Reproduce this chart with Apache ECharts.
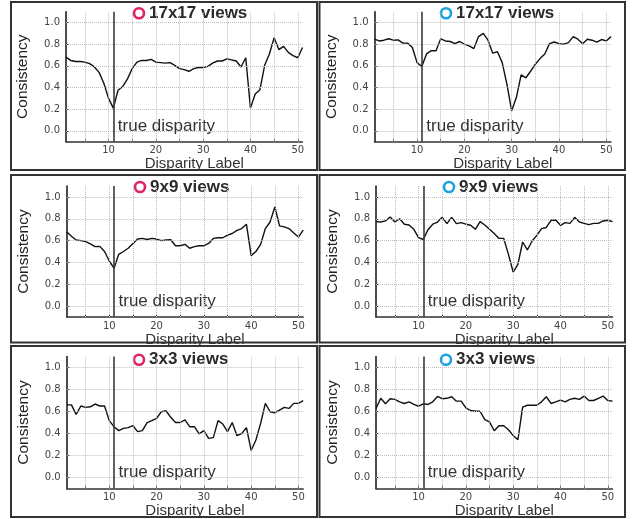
<!DOCTYPE html>
<html><head><meta charset="utf-8">
<script src="https://cdn.jsdelivr.net/npm/echarts@6/dist/echarts.min.js"></script>
<style>html,body{margin:0;padding:0;background:#fff}#c{width:632px;height:519px}</style>
</head><body><div id="c"></div>
<script>
// ---------- data ----------
const disparity = [1,2,3,4,5,6,7,8,9,10,11,12,13,14,15,16,17,18,19,20,21,22,23,24,25,26,27,28,29,30,31,32,33,34,35,36,37,38,39,40,41,42,43,44,45,46,47,48,49,50,51];
const xTickLabels = [10,20,30,40,50];
const xGridValues = [5,10,15,20,25,30,35,40,45,50];
const yTickLabels = [0,0.2,0.4,0.6,0.8,1.0];
const trueDisparity = 11;
const titles = ['17x17 views','17x17 views','9x9 views','9x9 views','3x3 views','3x3 views'];
const markerColors = ['#e0245e','#1aa3e0','#e0245e','#1aa3e0','#e0245e','#1aa3e0'];

const red17 = [0.68,0.65,0.64,0.64,0.635,0.62,0.59,0.54,0.44,0.30,0.21,0.375,0.41,0.48,0.575,0.635,0.65,0.65,0.66,0.635,0.63,0.625,0.63,0.605,0.575,0.565,0.55,0.575,0.585,0.585,0.595,0.625,0.645,0.645,0.665,0.655,0.645,0.59,0.675,0.21,0.34,0.38,0.605,0.71,0.86,0.75,0.78,0.725,0.695,0.675,0.77];
const blue17 = [0.846,0.83,0.837,0.85,0.837,0.84,0.81,0.81,0.77,0.63,0.594,0.71,0.74,0.74,0.85,0.83,0.825,0.805,0.825,0.80,0.785,0.76,0.87,0.90,0.837,0.717,0.73,0.63,0.43,0.185,0.31,0.517,0.49,0.55,0.615,0.667,0.71,0.805,0.82,0.805,0.80,0.815,0.87,0.846,0.805,0.846,0.837,0.82,0.843,0.83,0.87];
const red9 = [0.68,0.64,0.605,0.60,0.59,0.57,0.545,0.547,0.50,0.413,0.347,0.474,0.50,0.53,0.574,0.614,0.62,0.61,0.62,0.614,0.60,0.605,0.608,0.553,0.553,0.565,0.53,0.545,0.553,0.553,0.574,0.62,0.626,0.626,0.65,0.665,0.693,0.71,0.75,0.462,0.50,0.565,0.71,0.77,0.908,0.735,0.726,0.71,0.67,0.632,0.696];
const blue9 = [0.774,0.77,0.78,0.816,0.77,0.80,0.75,0.743,0.703,0.627,0.61,0.70,0.75,0.77,0.813,0.755,0.813,0.755,0.765,0.75,0.74,0.703,0.774,0.743,0.703,0.664,0.62,0.62,0.474,0.312,0.382,0.587,0.514,0.596,0.648,0.71,0.72,0.786,0.789,0.74,0.765,0.758,0.813,0.77,0.758,0.746,0.758,0.758,0.78,0.786,0.774];
const red3 = [0.66,0.66,0.574,0.65,0.637,0.643,0.668,0.65,0.65,0.517,0.462,0.426,0.447,0.453,0.471,0.417,0.426,0.498,0.517,0.538,0.598,0.607,0.547,0.50,0.50,0.523,0.462,0.462,0.396,0.426,0.356,0.362,0.517,0.486,0.417,0.50,0.38,0.40,0.453,0.245,0.341,0.492,0.674,0.598,0.589,0.613,0.637,0.628,0.674,0.674,0.698];
const blue3 = [0.627,0.72,0.67,0.716,0.71,0.688,0.673,0.688,0.664,0.648,0.67,0.664,0.688,0.737,0.716,0.72,0.734,0.694,0.694,0.633,0.609,0.602,0.602,0.526,0.505,0.425,0.471,0.471,0.434,0.382,0.343,0.639,0.657,0.657,0.657,0.688,0.734,0.673,0.688,0.703,0.688,0.71,0.72,0.71,0.74,0.70,0.70,0.72,0.74,0.70,0.694];
const panelSeries = [red17, blue17, red9, blue9, red3, blue3];

// ---------- layout ----------
const gridLeft = [[66,374.5],[66.7,376],[66.7,376]];
const gridTop = [11.7,186,356.5];
const gridHeight = [130,131,132];
const gridWidth = 236.5;
const panelBox = [[2,170],[175,342.5],[346,517]];
const colBox = [[11,317],[319.5,625]];
const titleLeft = [[149,456],[150,459],[149,456]];
const titleY = [13.3,187,359.7];

const chart = echarts.init(document.getElementById('c'), null, {renderer:'canvas'});
const grids = [], xAxes = [], yAxes = [], series = [], graphics = [];
const FONT = 'Liberation Sans, Arial, sans-serif';

for (let i = 0; i < 6; i++) {
  const r = Math.floor(i/2), c = i % 2;
  grids.push({left: gridLeft[r][c], top: gridTop[r], width: gridWidth, height: gridHeight[r],
    containLabel:false, outerBoundsMode:'none'});
  xAxes.push({type:'value', gridIndex:i, min:1, max:51,
    name:'Disparity Label', nameLocation:'middle', nameGap:12,
    nameTextStyle:{fontFamily:FONT, fontSize:15, color:'#333', padding:[0,0,0,20]},
    axisLine:{show:true, onZero:false, lineStyle:{color:'#333', width:1.5}},
    axisTick:{show:true, inside:true, length:3, customValues:xGridValues, lineStyle:{color:'#333'}},
    axisLabel:{show:true, customValues:xTickLabels, margin:4, fontFamily:'DejaVu Sans', fontSize:10, color:'#444'},
    splitLine:{show:false}});
  yAxes.push({type:'value', gridIndex:i, min:-0.1, max:1.1,
    name:'Consistency', nameLocation:'middle', nameGap:35,
    nameTextStyle:{fontFamily:FONT, fontSize:15.5, color:'#222'},
    axisLine:{show:true, onZero:false, lineStyle:{color:'#111', width:1.5}},
    axisTick:{show:true, inside:true, length:3, customValues:yTickLabels, lineStyle:{color:'#333'}},
    axisLabel:{show:true, customValues:yTickLabels, margin:6, fontFamily:'DejaVu Sans', fontSize:10, color:'#444',
      formatter: v => Number(v).toFixed(1)},
    splitLine:{show:false}});
  const pts = disparity.map((d,k) => [d, panelSeries[i][k]]);
  series.push({type:'line', xAxisIndex:i, yAxisIndex:i, data:pts, showSymbol:false, silent:true, z:1,
    lineStyle:{opacity:0, width:0},
    markLine:{silent:true, symbol:['none','none'], label:{show:false}, animation:false,
      lineStyle:{type:'dotted', color:'#bdbdbd', width:1},
      data: xGridValues.map(v => ({xAxis:v})).concat(yTickLabels.map(v => ({yAxis:v}))).concat([
        {xAxis:trueDisparity, lineStyle:{type:'solid', color:'#3a3a3a', width:1.6}}])}});
  series.push({type:'line', xAxisIndex:i, yAxisIndex:i, data:pts, showSymbol:false, z:3,
    animation:false, lineStyle:{color:'#111', width:1.4}});
  graphics.push({type:'rect', silent:true, z:0,
    shape:{x:colBox[c][0], y:panelBox[r][0], width:colBox[c][1]-colBox[c][0], height:panelBox[r][1]-panelBox[r][0]},
    style:{fill:'none', stroke:'#333', lineWidth:2}});
  graphics.push({type:'circle', silent:true, shape:{cx:titleLeft[r][c]-10, cy:titleY[r], r:5},
    style:{fill:'none', stroke:markerColors[i], lineWidth:2.6}});
  graphics.push({type:'text', silent:true, x:titleLeft[r][c], y:titleY[r],
    style:{text:titles[i], font:'bold 17px ' + FONT, fill:'#2a2a2a', textVerticalAlign:'middle', verticalAlign:'middle'}});
}

chart.setOption({animation:false, grid:grids, xAxis:xAxes, yAxis:yAxes, series:series, graphic:graphics});

for (let i = 0; i < 6; i++) {
  const p = chart.convertToPixel({gridIndex:i}, [trueDisparity, 0]);
  graphics.push({type:'text', silent:true, x:p[0] + 4.5, y:p[1] - 5,
    style:{text:'true disparity', font:'17px ' + FONT, fill:'#333', verticalAlign:'middle', textVerticalAlign:'middle'}});
}
chart.setOption({graphic:graphics});
</script></body></html>
